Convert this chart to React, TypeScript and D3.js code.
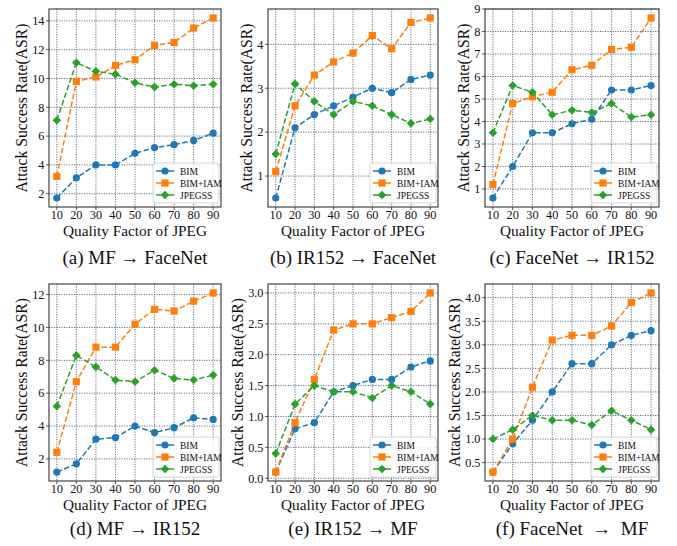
import React, { useRef, useEffect } from "react";
import * as d3 from "d3";

// x values (quality factor of JPEG)
const quality = [10, 20, 30, 40, 50, 60, 70, 80, 90];
const seriesNames = ["BIM", "BIM+IAM", "JPEGSS"];
const seriesColors = ["#1f77b4", "#ff7f0e", "#2ca02c"];

// (a) MF -> FaceNet
const bimA = [1.7, 3.1, 4.0, 4.0, 4.8, 5.2, 5.4, 5.7, 6.2];
const iamA = [3.2, 9.8, 10.1, 10.9, 11.3, 12.3, 12.5, 13.5, 14.2];
const jpgA = [7.1, 11.1, 10.5, 10.3, 9.7, 9.4, 9.6, 9.5, 9.6];
// (b) IR152 -> FaceNet
const bimB = [0.5, 2.1, 2.4, 2.6, 2.8, 3.0, 2.9, 3.2, 3.3];
const iamB = [1.1, 2.6, 3.3, 3.6, 3.8, 4.2, 3.9, 4.5, 4.6];
const jpgB = [1.5, 3.1, 2.7, 2.4, 2.7, 2.6, 2.4, 2.2, 2.3];
// (c) FaceNet -> IR152
const bimC = [0.6, 2.0, 3.5, 3.5, 3.9, 4.1, 5.4, 5.4, 5.6];
const iamC = [1.2, 4.8, 5.1, 5.3, 6.3, 6.5, 7.2, 7.3, 8.6];
const jpgC = [3.5, 5.6, 5.3, 4.3, 4.5, 4.4, 4.8, 4.2, 4.3];
// (d) MF -> IR152
const bimD = [1.2, 1.7, 3.2, 3.3, 4.0, 3.6, 3.9, 4.5, 4.4];
const iamD = [2.4, 6.7, 8.8, 8.8, 10.2, 11.1, 11.0, 11.6, 12.1];
const jpgD = [5.2, 8.3, 7.6, 6.8, 6.7, 7.4, 6.9, 6.8, 7.1];
// (e) IR152 -> MF
const bimE = [0.1, 0.8, 0.9, 1.4, 1.5, 1.6, 1.6, 1.8, 1.9];
const iamE = [0.1, 0.9, 1.6, 2.4, 2.5, 2.5, 2.6, 2.7, 3.0];
const jpgE = [0.4, 1.2, 1.5, 1.4, 1.4, 1.3, 1.5, 1.4, 1.2];
// (f) FaceNet -> MF
const bimF = [0.3, 0.9, 1.4, 2.0, 2.6, 2.6, 3.0, 3.2, 3.3];
const iamF = [0.3, 1.0, 2.1, 3.1, 3.2, 3.2, 3.4, 3.9, 4.1];
const jpgF = [1.0, 1.2, 1.5, 1.4, 1.4, 1.3, 1.6, 1.4, 1.2];

const captions = [
  "(a) MF \u2192 FaceNet",
  "(b) IR152 \u2192 FaceNet",
  "(c) FaceNet \u2192 IR152",
  "(d) MF \u2192 IR152",
  "(e) IR152 \u2192 MF",
  "(f) FaceNet  \u2192  MF",
];
const yTicksA = [2, 4, 6, 8, 10, 12, 14];
const yTicksB = [1, 2, 3, 4];
const yTicksC = [1, 2, 3, 4, 5, 6, 7, 8, 9];
const yTicksD = [2, 4, 6, 8, 10, 12];
const yTicksE = [0, 0.5, 1.0, 1.5, 2.0, 2.5, 3.0];
const yTicksF = [0.5, 1.0, 1.5, 2.0, 2.5, 3.0, 3.5, 4.0];

const panels = [
  { series: [bimA, iamA, jpgA], ticks: yTicksA, fmt: "d" },
  { series: [bimB, iamB, jpgB], ticks: yTicksB, fmt: "d" },
  { series: [bimC, iamC, jpgC], ticks: yTicksC, fmt: "d" },
  { series: [bimD, iamD, jpgD], ticks: yTicksD, fmt: "d" },
  { series: [bimE, iamE, jpgE], ticks: yTicksE, fmt: ".1f" },
  { series: [bimF, iamF, jpgF], ticks: yTicksF, fmt: ".1f" },
];

const FONT = "Liberation Serif";

const App = () => {
  const ref = useRef<SVGSVGElement | null>(null);

  useEffect(() => {
    if (!ref.current) return;
    const svg = d3.select(ref.current);
    svg.selectAll("*").remove();

    // axes boxes
    const colLeft = [49, 268, 485];
    const colRight = [221, 438, 659];
    const rowTop = [9, 284];
    const rowBottom = [207, 481];
    const captionY = [264, 535];
    const tickSize = 12.3;

    panels.forEach((p, idx) => {
      const c = idx % 3;
      const r = Math.floor(idx / 3);
      const x0 = colLeft[c];
      const x1 = colRight[c];
      const y0 = rowTop[r];
      const y1 = rowBottom[r];
      const w = x1 - x0;
      const h = y1 - y0;

      const all = p.series.flat();
      const lo = d3.min(all) as number;
      const hi = d3.max(all) as number;
      const m = (hi - lo) * 0.05;

      const xScale = d3.scaleLinear().domain([6, 94]).range([0, w]);
      const yScale = d3.scaleLinear().domain([lo - m, hi + m]).range([h, 0]);
      const fmt = d3.format(p.fmt);

      const g = svg.append("g").attr("transform", `translate(${x0},${y0})`);

      // grid
      g.append("g")
        .selectAll("line")
        .data(quality)
        .join("line")
        .attr("x1", (d) => xScale(d))
        .attr("x2", (d) => xScale(d))
        .attr("y1", 0)
        .attr("y2", h)
        .attr("stroke", "#3b4a63")
        .attr("stroke-width", 0.8)
        .attr("stroke-dasharray", "1.2,1.3");
      g.append("g")
        .selectAll("line")
        .data(p.ticks)
        .join("line")
        .attr("x1", 0)
        .attr("x2", w)
        .attr("y1", (d) => yScale(d))
        .attr("y2", (d) => yScale(d))
        .attr("stroke", "#3b4a63")
        .attr("stroke-width", 0.8)
        .attr("stroke-dasharray", "1.2,1.3");

      // ticks
      g.append("g")
        .selectAll("line")
        .data(quality)
        .join("line")
        .attr("x1", (d) => xScale(d))
        .attr("x2", (d) => xScale(d))
        .attr("y1", h)
        .attr("y2", h + 3)
        .attr("stroke", "#333")
        .attr("stroke-width", 0.8);
      g.append("g")
        .selectAll("text")
        .data(quality)
        .join("text")
        .attr("x", (d) => xScale(d))
        .attr("y", h + 12)
        .attr("text-anchor", "middle")
        .attr("font-family", FONT)
        .attr("font-size", tickSize)
        .attr("fill", "#111")
        .text((d) => d);
      g.append("g")
        .selectAll("line")
        .data(p.ticks)
        .join("line")
        .attr("x1", -3)
        .attr("x2", 0)
        .attr("y1", (d) => yScale(d))
        .attr("y2", (d) => yScale(d))
        .attr("stroke", "#333")
        .attr("stroke-width", 0.8);
      g.append("g")
        .selectAll("text")
        .data(p.ticks)
        .join("text")
        .attr("x", -4.5)
        .attr("y", (d) => yScale(d) + 4.3)
        .attr("text-anchor", "end")
        .attr("font-family", FONT)
        .attr("font-size", tickSize)
        .attr("fill", "#111")
        .text((d) => fmt(d));

      // axis labels
      const labelW = d3.max(
        p.ticks.map((t) =>
          fmt(t)
            .split("")
            .reduce((s, ch) => s + (ch === "." ? 0.25 : 0.5), 0)
        )
      ) as number;
      const labelOff = labelW * tickSize + 9.5;
      g.append("text")
        .attr("transform", `translate(${-labelOff},${h / 2}) rotate(-90)`)
        .attr("text-anchor", "middle")
        .attr("font-family", FONT)
        .attr("font-size", 15.7)
        .attr("fill", "#111")
        .text("Attack Success Rate(ASR)");
      g.append("text")
        .attr("x", w / 2)
        .attr("y", h + 28.5)
        .attr("text-anchor", "middle")
        .attr("font-family", FONT)
        .attr("font-size", 15.3)
        .attr("fill", "#111")
        .text("Quality Factor of JPEG");

      // lines + markers
      const line = d3
        .line<number>()
        .x((d, i) => xScale(quality[i]))
        .y((d) => yScale(d));
      p.series.forEach((s, si) => {
        const col = seriesColors[si];
        g.append("path")
          .attr("d", line(s))
          .attr("fill", "none")
          .attr("stroke", col)
          .attr("stroke-width", 1.5)
          .attr("stroke-dasharray", "5.5,2.4");
        drawMarkers(g, s.map((v, i) => [xScale(quality[i]), yScale(v)]), si, col);
      });

      // frame
      g.append("rect")
        .attr("width", w)
        .attr("height", h)
        .attr("fill", "none")
        .attr("stroke", "#333")
        .attr("stroke-width", 1.1);

      // legend
      const lx = w - 68;
      const ly = h - 44;
      g.append("rect")
        .attr("x", lx)
        .attr("y", ly)
        .attr("width", 66)
        .attr("height", 40)
        .attr("rx", 2)
        .attr("fill", "white")
        .attr("fill-opacity", 0.85)
        .attr("stroke", "#ccc")
        .attr("stroke-width", 0.8);
      seriesNames.forEach((name, si) => {
        const yy = ly + 8 + si * 12;
        g.append("line")
          .attr("x1", lx + 3)
          .attr("x2", lx + 21)
          .attr("y1", yy)
          .attr("y2", yy)
          .attr("stroke", seriesColors[si])
          .attr("stroke-width", 1.5);
        drawMarkers(g, [[lx + 12, yy]], si, seriesColors[si]);
        g.append("text")
          .attr("x", lx + 27)
          .attr("y", yy + 3.5)
          .attr("font-family", FONT)
          .attr("font-size", 9.5)
          .attr("fill", "#111")
          .text(name);
      });

      // caption
      svg
        .append("text")
        .attr("x", x0 + w / 2)
        .attr("y", captionY[r])
        .attr("text-anchor", "middle")
        .attr("font-family", FONT)
        .attr("font-size", 19)
        .attr("fill", "#111")
        .style("white-space", "pre")
        .text(captions[idx]);
    });

    function drawMarkers(g: any, pts: number[][], kind: number, col: string) {
      const sel = g.append("g");
      if (kind === 0) {
        sel
          .selectAll("circle")
          .data(pts)
          .join("circle")
          .attr("cx", (d: number[]) => d[0])
          .attr("cy", (d: number[]) => d[1])
          .attr("r", 3.6)
          .attr("fill", col);
      } else if (kind === 1) {
        sel
          .selectAll("rect")
          .data(pts)
          .join("rect")
          .attr("x", (d: number[]) => d[0] - 3.6)
          .attr("y", (d: number[]) => d[1] - 3.6)
          .attr("width", 7.2)
          .attr("height", 7.2)
          .attr("fill", col);
      } else {
        sel
          .selectAll("path")
          .data(pts)
          .join("path")
          .attr(
            "d",
            (d: number[]) =>
              `M${d[0]},${d[1] - 4.3}L${d[0] + 4.3},${d[1]}L${d[0]},${d[1] + 4.3}L${d[0] - 4.3},${d[1]}Z`
          )
          .attr("fill", col);
      }
    }
  }, []);

  return (
    <svg
      ref={ref}
      width={677}
      height={546}
      style={{ position: "absolute", left: 0, top: 0, background: "white" }}
    />
  );
};

export default App;
